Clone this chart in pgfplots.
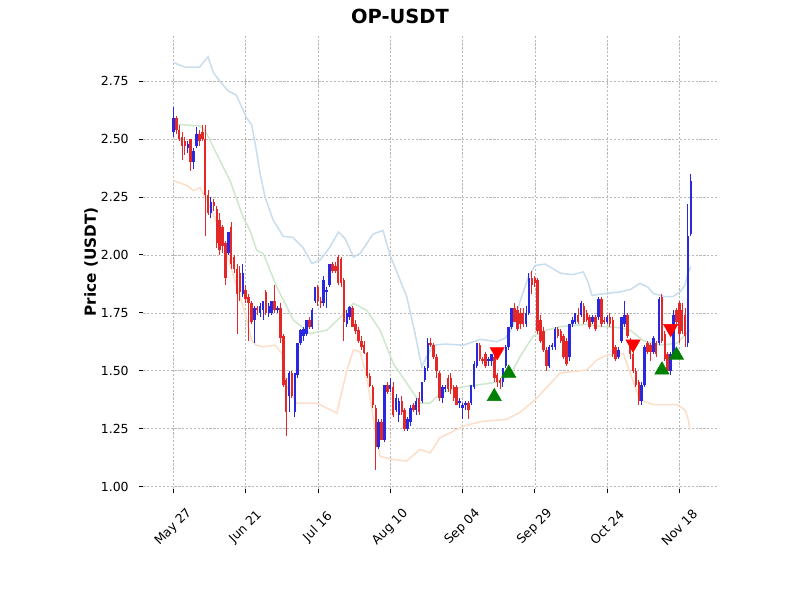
\documentclass[border=0pt]{standalone}
\usepackage{pgfplots}
\pgfplotsset{compat=1.18}
\usepackage{pgfplotstable}
\usepackage{fontspec}
\setmainfont{DejaVu Sans}
\definecolor{cred}{RGB}{228,40,40}
\definecolor{cblue}{RGB}{40,40,225}
\definecolor{bup}{RGB}{200,222,238}
\definecolor{bmid}{RGB}{205,232,205}
\definecolor{blow}{RGB}{253,222,200}
\definecolor{buyg}{RGB}{0,128,0}

\pgfplotstableread{
d O H L C
0 2.53 2.64 2.51 2.59
1 2.59 2.60 2.52 2.54
2 2.54 2.56 2.49 2.50
3 2.51 2.53 2.41 2.47
4 2.49 2.51 2.43 2.47
5 2.46 2.49 2.44 2.48
6 2.50 2.50 2.36 2.40
7 2.40 2.46 2.37 2.45
8 2.47 2.55 2.46 2.52
9 2.52 2.54 2.47 2.49
10 2.53 2.56 2.49 2.50
11 2.50 2.56 2.08 2.26
12 2.26 2.28 2.17 2.18
13 2.18 2.25 2.16 2.23
14 2.23 2.24 2.19 2.21
15 2.20 2.21 2.03 2.05
16 2.15 2.18 2.00 2.02
17 2.12 2.13 2.01 2.04
18 2.05 2.06 1.87 1.90
19 2.01 2.10 2.00 2.10
20 2.12 2.14 1.94 1.96
21 1.99 2.00 1.92 1.94
22 1.94 1.96 1.66 1.83
23 1.92 1.95 1.80 1.84
24 1.83 1.96 1.82 1.92
25 1.85 1.87 1.79 1.81
26 1.82 1.83 1.63 1.79
27 1.79 1.80 1.70 1.71
28 1.72 1.78 1.62 1.77
29 1.77 1.78 1.74 1.76
30 1.75 1.79 1.73 1.78
31 1.76 1.80 1.72 1.80
32 1.84 1.85 1.74 1.75
33 1.75 1.79 1.73 1.78
34 1.75 1.80 1.74 1.80
35 1.80 1.87 1.75 1.76
36 1.76 1.78 1.75 1.77
37 1.77 1.79 1.62 1.64
38 1.65 1.66 1.43 1.44
39 1.46 1.47 1.22 1.32
40 1.39 1.50 1.32 1.49
41 1.49 1.50 1.38 1.39
42 1.32 1.49 1.30 1.49
43 1.48 1.62 1.47 1.62
44 1.62 1.68 1.61 1.675
45 1.65 1.69 1.63 1.68
46 1.66 1.72 1.65 1.72
47 1.72 1.73 1.68 1.69
48 1.69 1.77 1.68 1.76
49 1.80 1.86 1.79 1.86
50 1.86 1.87 1.78 1.80
51 1.80 1.82 1.77 1.79
52 1.79 1.91 1.78 1.89
53 1.84 1.86 1.77 1.85
54 1.87 1.96 1.86 1.96
55 1.96 1.97 1.92 1.93
56 1.95 1.97 1.92 1.93
57 1.99 2.00 1.87 1.88
58 1.98 1.99 1.86 1.88
59 1.89 1.90 1.63 1.71
60 1.70 1.76 1.69 1.75
61 1.73 1.78 1.72 1.775
62 1.77 1.78 1.69 1.69
63 1.70 1.72 1.66 1.67
64 1.675 1.69 1.62 1.63
65 1.63 1.65 1.59 1.60
66 1.61 1.63 1.57 1.575
67 1.575 1.58 1.47 1.475
68 1.475 1.49 1.43 1.435
69 1.43 1.44 1.34 1.35
70 1.34 1.35 1.07 1.17
71 1.17 1.29 1.16 1.28
72 1.28 1.29 1.20 1.20
73 1.20 1.44 1.19 1.44
74 1.44 1.45 1.40 1.41
75 1.42 1.47 1.41 1.44
76 1.43 1.45 1.30 1.31
77 1.33 1.40 1.32 1.38
78 1.31 1.38 1.28 1.37
79 1.37 1.39 1.31 1.32
80 1.33 1.34 1.24 1.25
81 1.25 1.30 1.24 1.29
82 1.28 1.35 1.26 1.34
83 1.35 1.36 1.32 1.33
84 1.33 1.38 1.31 1.37
85 1.38 1.41 1.31 1.32
86 1.37 1.45 1.36 1.45
87 1.46 1.52 1.45 1.51
88 1.51 1.64 1.50 1.62
89 1.62 1.64 1.60 1.61
90 1.61 1.62 1.55 1.56
91 1.56 1.57 1.47 1.50
92 1.49 1.50 1.37 1.38
93 1.38 1.44 1.36 1.43
94 1.42 1.44 1.41 1.43
95 1.47 1.48 1.41 1.42
96 1.47 1.49 1.40 1.42
97 1.43 1.44 1.37 1.38
98 1.43 1.44 1.35 1.35
99 1.36 1.38 1.34 1.37
100 1.34 1.36 1.29 1.35
101 1.35 1.37 1.33 1.36
102 1.36 1.37 1.29 1.33
103 1.36 1.44 1.35 1.44
104 1.43 1.54 1.42 1.53
105 1.52 1.62 1.51 1.62
106 1.61 1.62 1.54 1.55
107 1.55 1.56 1.53 1.54
108 1.57 1.58 1.51 1.52
109 1.54 1.56 1.52 1.55
110 1.54 1.57 1.52 1.57
111 1.56 1.57 1.45 1.47
112 1.48 1.49 1.43 1.45
113 1.46 1.47 1.42 1.445
114 1.45 1.51 1.43 1.51
115 1.52 1.61 1.51 1.60
116 1.60 1.69 1.59 1.69
117 1.69 1.77 1.68 1.77
118 1.77 1.79 1.71 1.71
119 1.76 1.78 1.67 1.68
120 1.75 1.77 1.68 1.70
121 1.75 1.77 1.69 1.70
122 1.70 1.78 1.69 1.75
123 1.75 1.92 1.74 1.90
124 1.90 1.93 1.83 1.87
125 1.90 1.91 1.86 1.88
126 1.89 1.90 1.66 1.67
127 1.72 1.74 1.62 1.63
128 1.67 1.69 1.58 1.59
129 1.59 1.60 1.50 1.52
130 1.52 1.61 1.51 1.60
131 1.60 1.62 1.59 1.61
132 1.60 1.69 1.59 1.68
133 1.68 1.69 1.64 1.65
134 1.67 1.68 1.62 1.63
135 1.65 1.66 1.55 1.56
136 1.63 1.64 1.52 1.53
137 1.56 1.70 1.54 1.70
138 1.70 1.73 1.69 1.72
139 1.71 1.75 1.70 1.75
140 1.74 1.77 1.70 1.71
141 1.74 1.80 1.73 1.79
142 1.78 1.79 1.70 1.71
143 1.75 1.76 1.71 1.72
144 1.73 1.74 1.68 1.69
145 1.71 1.74 1.70 1.73
146 1.73 1.74 1.67 1.68
147 1.73 1.82 1.72 1.81
148 1.81 1.82 1.69 1.70
149 1.72 1.73 1.70 1.71
150 1.71 1.74 1.70 1.73
151 1.73 1.75 1.69 1.70
152 1.72 1.73 1.56 1.57
153 1.60 1.61 1.54 1.55
154 1.56 1.60 1.55 1.59
155 1.63 1.73 1.62 1.73
156 1.70 1.80 1.69 1.74
157 1.74 1.75 1.64 1.65
158 1.63 1.64 1.55 1.57
159 1.57 1.58 1.49 1.50
160 1.50 1.51 1.43 1.44
161 1.45 1.46 1.35 1.37
162 1.37 1.45 1.35 1.44
163 1.44 1.61 1.43 1.60
164 1.62 1.63 1.57 1.58
165 1.61 1.62 1.54 1.58
166 1.58 1.65 1.57 1.64
167 1.62 1.63 1.56 1.57
168 1.62 1.82 1.61 1.81
169 1.82 1.83 1.62 1.63
170 1.66 1.67 1.54 1.55
171 1.57 1.58 1.49 1.50
172 1.50 1.58 1.48 1.57
173 1.56 1.76 1.55 1.74
174 1.76 1.77 1.70 1.71
175 1.79 1.80 1.62 1.66
176 1.76 1.79 1.66 1.67
177 1.74 1.77 1.60 1.65
178 1.62 2.22 1.60 2.08
179 2.09 2.35 2.08 2.32
}\candles

\pgfplotstableread{
d v
0 2.83
4 2.81
9 2.81
11 2.84
12 2.855
13.7 2.79
16 2.75
19 2.707
21.7 2.69
25.4 2.59
27.1 2.56
28.3 2.48
30 2.35
31.7 2.25
34.5 2.15
38 2.08
41.4 2.075
44.9 2.03
47.9 1.963
50.7 1.976
54.1 2.033
57.1 2.098
59.4 2.07
62.3 1.99
64.6 2.006
69.1 2.09
72.5 2.105
74.9 2.00
80.7 1.82
83.6 1.66
85.9 1.517
87.6 1.56
89.9 1.61
94 1.615
100.2 1.61
106.3 1.635
111.9 1.625
114.7 1.64
116.5 1.668
118.2 1.72
119.9 1.80
122.7 1.90
125.1 1.954
128.6 1.96
134 1.92
138 1.915
141.8 1.926
143.5 1.88
144.8 1.825
147.6 1.83
154.5 1.84
158 1.85
161.4 1.877
164.2 1.86
166 1.833
170 1.82
172.8 1.82
175.3 1.84
177 1.87
178 1.92
179 1.95
}\bandup

\pgfplotstableread{
d v
0 2.565
9.2 2.556
11 2.535
15 2.435
19.6 2.32
24.2 2.16
26.5 2.105
28.8 2.02
31.1 2.005
35.8 1.86
41.5 1.718
47.3 1.66
53.1 1.675
57.7 1.73
62.3 1.79
66.9 1.76
71.5 1.675
76.1 1.53
80.7 1.446
85.3 1.36
88.8 1.36
92.2 1.40
95.7 1.417
100.3 1.43
106.1 1.44
111.9 1.45
116.5 1.48
119.9 1.56
124.5 1.65
129.2 1.675
133.8 1.69
143 1.70
148.7 1.69
154.5 1.685
158 1.675
162.5 1.63
168.4 1.61
174.1 1.618
178.7 1.675
}\bandmid

\pgfplotstableread{
d v
0 2.32
4.6 2.30
6.9 2.277
9.2 2.29
11.6 2.234
16.2 2.105
20.2 1.933
24.2 1.775
27.1 1.632
28.6 1.61
31 1.603
35.2 1.61
37.5 1.575
39.2 1.43
42.7 1.36
49.6 1.36
53.1 1.338
56.5 1.317
60 1.50
62.3 1.59
64.6 1.58
66.9 1.474
69.2 1.288
71.5 1.13
76.1 1.116
80.7 1.11
85.3 1.16
88.8 1.145
92.2 1.21
100.3 1.26
106.1 1.28
115.3 1.29
119.9 1.32
125.1 1.374
133.8 1.49
143 1.503
146.5 1.546
149.9 1.567
154.5 1.575
155.6 1.575
158 1.49
161.4 1.374
166 1.353
174.1 1.353
177 1.33
178.1 1.29
178.7 1.245
}\bandlow

\begin{document}
\begin{tikzpicture}[x=1pt,y=1pt]
\useasboundingbox (0,0) rectangle (576,432);
\node[font=\bfseries\fontsize{14}{16}\selectfont] at (288,420) {OP-USDT};
\begin{axis}[
  at={(103.2pt,79.9pt)}, anchor=south west,
  scale only axis, width=414pt, height=326.9pt,
  xmin=-10.4, xmax=188.5, ymin=0.989, ymax=2.949,
  axis line style={draw=none},
  tick pos=left, tick align=outside,
  major tick length=3pt,
  tick style={black, line width=0.6pt},
  grid=major,
  major grid style={gray!55, dash pattern=on 1.6pt off 1.2pt, line width=0.35pt},
  xtick={0,25,50,75,100,125,150,175},
  xticklabels={May 27,Jun 21,Jul 16,Aug 10,Sep 04,Sep 29,Oct 24,Nov 18},
  xticklabel shift=24.5pt,
  xticklabel style={rotate=45, anchor=center},
  ytick={1,1.25,1.5,1.75,2,2.25,2.5,2.75},
  yticklabel shift=4pt,
  yticklabel style={/pgf/number format/.cd, fixed, fixed zerofill, precision=2},
  /pgf/number format/assume math mode=true,
  tick label style={font=\fontsize{9}{11}\selectfont, black},
  ylabel={Price (USDT)},
  ylabel style={font=\bfseries\fontsize{11}{13}\selectfont, at={(axis description cs:-0.0911,0.5)}, anchor=center},
]
\addplot[no marks, color=bup, line width=1.1pt] table[x=d, y=v] {\bandup};
\addplot[no marks, color=bmid, line width=1.1pt] table[x=d, y=v] {\bandmid};
\addplot[no marks, color=blow, line width=1.1pt] table[x=d, y=v] {\bandlow};

% wicks up
\addplot[no marks, draw=none, restrict expr to domain={\thisrow{C}-\thisrow{O}}{0:100},
  error bars/.cd, y dir=both, y explicit, error mark=none,
  error bar style={draw=cblue, line width=0.7pt}]
  table[x=d, y expr={(\thisrow{H}+\thisrow{L})/2}, y error expr={(\thisrow{H}-\thisrow{L})/2}] {\candles};
% wicks down
\addplot[no marks, draw=none, restrict expr to domain={\thisrow{C}-\thisrow{O}}{-100:-0.0001},
  error bars/.cd, y dir=both, y explicit, error mark=none,
  error bar style={draw=cred, line width=0.7pt}]
  table[x=d, y expr={(\thisrow{H}+\thisrow{L})/2}, y error expr={(\thisrow{H}-\thisrow{L})/2}] {\candles};
% bodies up
\addplot[no marks, draw=none, restrict expr to domain={\thisrow{C}-\thisrow{O}}{0:100},
  error bars/.cd, y dir=both, y explicit, error mark=none,
  error bar style={draw=cblue, line width=1.8pt}]
  table[x=d, y expr={(\thisrow{O}+\thisrow{C})/2}, y error expr={abs(\thisrow{C}-\thisrow{O})/2}] {\candles};
% bodies down
\addplot[no marks, draw=none, restrict expr to domain={\thisrow{C}-\thisrow{O}}{-100:-0.0001},
  error bars/.cd, y dir=both, y explicit, error mark=none,
  error bar style={draw=cred, line width=1.8pt}]
  table[x=d, y expr={(\thisrow{O}+\thisrow{C})/2}, y error expr={abs(\thisrow{C}-\thisrow{O})/2}] {\candles};

% buy signals
\addplot[only marks, mark=triangle*, mark size=5.9pt, color=buyg] coordinates {(111,1.388) (116,1.489) (169,1.503) (174,1.567)};
% sell signals
\addplot[only marks, mark=triangle*, mark size=5.9pt, mark options={rotate=180}, color=red] coordinates {(112,1.582) (159,1.615) (172,1.682)};
\end{axis}
\end{tikzpicture}
\end{document}
